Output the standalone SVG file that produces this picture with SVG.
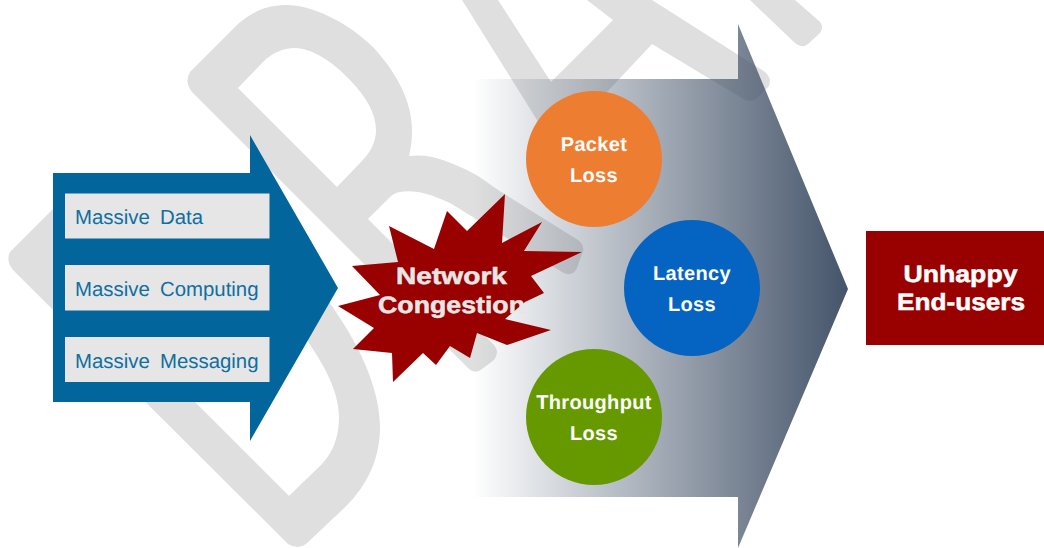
<svg xmlns="http://www.w3.org/2000/svg" width="1044" height="548" viewBox="0 0 1044 548">
<style>
.wm{fill:#dfdfdf;fill-rule:evenodd}
.box{fill:#e6e6e7}
.lbl{font-family:"Liberation Sans",Arial,sans-serif;font-size:20.4px;fill:#0f6fa0;word-spacing:4.5px;text-rendering:geometricPrecision}
.t{font-family:"Liberation Sans",Arial,sans-serif;font-weight:700;text-anchor:middle;text-rendering:geometricPrecision}
.c{font-size:20px;fill:#fff;letter-spacing:.35px}
.h{font-size:23.5px;stroke-width:.5px}
.s{fill:#e6e6e6;stroke:#e6e6e6}
.w{fill:#fff;stroke:#fff}
</style>
<defs>
<linearGradient id="g" gradientUnits="userSpaceOnUse" x1="473" y1="0" x2="848" y2="0">
<stop offset="0" stop-color="#44546a" stop-opacity="0"/>
<stop offset="1" stop-color="#44546a" stop-opacity="1"/>
</linearGradient>
</defs>
<g id="watermark">
<path class="wm" d="M10,252 L60,202 L190,210 L320,290 C355,335 380,385 380,427 C380,465 362,492 340,512 L306,544 Q298,550 288,544 L15,272 Q5,262 10,252 Z M289,496 L322,464 C334,451 339,435 339,417 C339,392 325,365 300,330 L250,300 L150,357 Z"/>
<path class="wm" d="M190,72 L238,24 C255,9 270,5 287,5 C310,5 345,20 373,47 C397,73 412,102 412,130 C412,140 411,148 409,156 C430,153 450,162 467,170 C480,176 490,185 503,193 L578,240 Q586,246 582,254 L577,268 Q572,278 562,272 L450,203 C425,191 410,190 400,192 C393,193 390,197 387,200 L368,219 L475,326 L494,345 Q500,352 494,360 L482,369 Q475,375 468,368 L192,92 Q184,82 190,72 Z M238,88 L263,62 C272,53 283,48 295,48 C312,48 333,62 350,80 C366,97 376,113 376,130 C376,143 370,153 360,163 L337,187 Z"/>
<path class="wm" d="M462,0 L537,120 L570,160 L600,110 L607,92 L652,44 L740,97 Q750,104 757,98 L769,86 Q772,78 765,72 L652,0 L587,0 L613,20 L551,82 L498,0 Z"/>
<path class="wm" d="M750,0 L795,43 Q802,49 808,44 L820,33 Q825,26 818,20 L795,0 Z"/>
</g>
<g id="connectors"></g>
<g id="big-arrow"><path d="M473,79 H738 V24 L848,289 L738,548 V497 H473 Z" fill="url(#g)"/></g>
<g id="input-arrow">
<path d="M53,173 H250 V135 L338,288 L250,441 V402 H53 Z" fill="#02659b"/>
<g id="massive-data"><rect class="box" x="65" y="193.500" width="204.500" height="45"/><text class="lbl" x="75" y="224">Massive Data</text></g>
<g id="massive-computing"><rect class="box" x="65" y="265" width="204.500" height="45.500"/><text class="lbl" x="75" y="296">Massive Computing</text></g>
<g id="massive-messaging"><rect class="box" x="65" y="337" width="204.500" height="45"/><text class="lbl" x="75" y="368">Massive Messaging</text></g>
</g>
<g id="network-congestion">
<path fill="#990000" d="M505,194 L502,243 L542,222 L524,251 L582,252 L531,276 L544,293 L525,302 L505,319 L551,330 L507,345 L477,333 L470,358 L450,346 L436,365 L423,353 L393,382 L392,353 L353,349 L374,328 L338,306 L380,295 L352,266 L398,262 L389,226 L434,249 L447,211 L467,231 Z"/>
<text class="t h s" x="451.500" y="284" textLength="111" lengthAdjust="spacingAndGlyphs">Network</text>
<text class="t h s" x="451.500" y="313" textLength="147" lengthAdjust="spacingAndGlyphs">Congestion</text>
</g>
<g id="packet-loss"><circle cx="594" cy="159" r="68" fill="#ed7d31"/><text class="t c" x="594" y="151">Packet</text><text class="t c" x="594" y="182">Loss</text></g>
<g id="latency-loss"><circle cx="692" cy="288" r="68" fill="#0563c1"/><text class="t c" x="692" y="280">Latency</text><text class="t c" x="692" y="311">Loss</text></g>
<g id="throughput-loss"><circle cx="594" cy="417" r="68" fill="#669900"/><text class="t c" x="594" y="409">Throughput</text><text class="t c" x="594" y="440">Loss</text></g>
<g id="unhappy-end-users"><rect x="866" y="231" width="178" height="114" fill="#990000"/>
<text class="t h w" x="960.500" y="282" textLength="114" lengthAdjust="spacingAndGlyphs">Unhappy</text>
<text class="t h w" x="961" y="310" textLength="128" lengthAdjust="spacingAndGlyphs">End-users</text></g>
</svg>
